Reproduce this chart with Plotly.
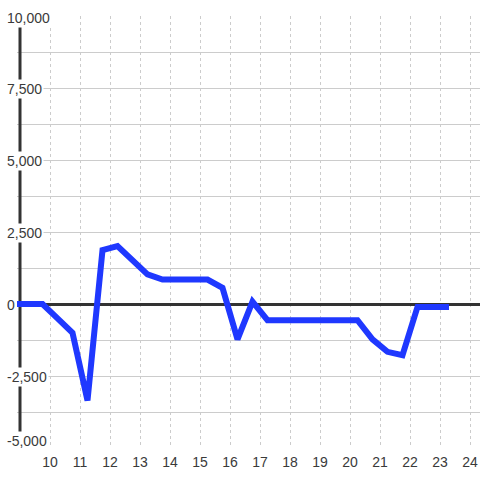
import plotly.graph_objects as go

hours = [8.75, 9.25, 9.75, 10.25, 10.75, 11.25, 11.75, 12.25, 12.75, 13.25,
         13.75, 14.25, 14.75, 15.25, 15.75, 16.25, 16.75, 17.25, 17.75, 18.25,
         18.75, 19.25, 19.75, 20.25, 20.75, 21.25, 21.75, 22.25, 22.75, 23.3]
values = [0, 0, 0, -500, -1000, -3350, 1870, 2010, 1500, 1030,
          850, 850, 850, 850, 560, -1230, 80, -560, -560, -560,
          -560, -560, -560, -560, -1230, -1660, -1780, -100, -100, -100]

x_ticks = list(range(10, 25))
y_label_vals = [10000, 7500, 5000, 2500, 0, -2500, -5000]
y_label_text = ["10,000", "7,500", "5,000", "2,500", "0", "-2,500", "-5,000"]
y_label_shift = [-1.5, -1, -1, -1, -1, -1, 7]

W, H = 480, 480
ml, mr, mt, mb = 17, 0, 16, 32
plot_w = W - ml - mr

fig = go.Figure()
fig.add_trace(go.Scatter(x=hours, y=values, mode="lines",
                         line=dict(color="#1f38ff", width=6),
                         hoverinfo="skip", showlegend=False))

# y axis line drawn at x = 9
fig.add_shape(type="line", xref="x", yref="y", x0=9, x1=9, y0=-5000, y1=10000,
              line=dict(color="#333333", width=3), layer="between")

for v, t, s in zip(y_label_vals, y_label_text, y_label_shift):
    fig.add_annotation(x=(5 - ml) / plot_w, xref="paper", y=v, yref="y",
                       text=t, showarrow=False, xanchor="left", yanchor="middle",
                       yshift=s, bgcolor="white", borderpad=1,
                       font=dict(family="Liberation Sans, Arial", size=14, color="#3a3a3a"))

fig.update_layout(
    width=W, height=H,
    margin=dict(l=ml, r=mr, t=mt, b=mb, autoexpand=False),
    paper_bgcolor="white", plot_bgcolor="white",
    font=dict(family="Liberation Sans, Arial", size=14, color="#3a3a3a"),
    xaxis=dict(range=[9 - 3 / 30, 9 - 3 / 30 + plot_w / 30], automargin=False,
               tickvals=x_ticks, ticktext=[str(v) for v in x_ticks],
               showgrid=True, gridcolor="#cccccc", griddash="dot", gridwidth=1,
               zeroline=False, showline=False, ticks="", ticklabelstandoff=4,
               tickfont=dict(size=14, color="#3a3a3a")),
    yaxis=dict(range=[-5000, 10000], dtick=1250, tick0=0, automargin=False,
               showgrid=True, gridcolor="#cccccc", gridwidth=1,
               zeroline=True, zerolinecolor="#333333", zerolinewidth=3,
               showline=False, ticks="", showticklabels=False),
)

fig.write_html("out.html", config={"displayModeBar": False},
               post_script="document.body.style.margin='0';")
